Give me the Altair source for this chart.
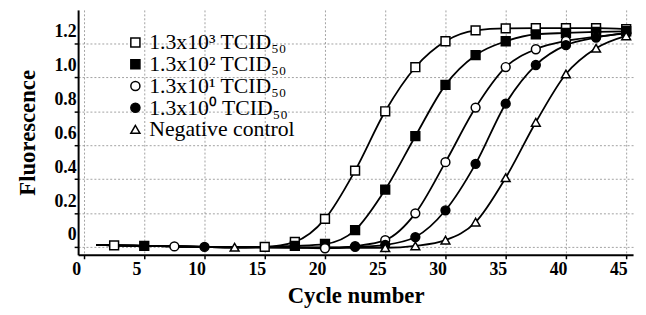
import altair as alt
import pandas as pd

cycles = [1, 2.5, 5, 7.5, 10, 12.5, 15, 17.5, 20, 22.5, 25, 27.5, 30, 32.5, 35, 37.5, 40, 42.5, 45]

names = ["1.3x10³ TCID₅₀", "1.3x10² TCID₅₀", "1.3x10¹ TCID₅₀", "1.3x10⁰ TCID₅₀", "Negative control"]

val_a = [0.012, 0.009, 0.006, 0.003, 0.0, -0.002, 0.0, 0.03, 0.165, 0.45, 0.80, 1.06, 1.213, 1.277, 1.289, 1.29, 1.29, 1.29, 1.285]
val_b = [0.012, 0.009, 0.006, 0.003, 0.0, -0.002, 0.0, 0.006, 0.017, 0.099, 0.338, 0.653, 0.956, 1.131, 1.213, 1.254, 1.262, 1.268, 1.272]
val_c = [0.012, 0.009, 0.006, 0.003, 0.0, -0.002, -0.002, -0.004, -0.008, 0.005, 0.04, 0.198, 0.50, 0.822, 1.061, 1.166, 1.215, 1.24, 1.26]
val_d = [0.012, 0.009, 0.006, 0.003, 0.0, -0.002, -0.002, -0.003, -0.003, 0.0, 0.012, 0.058, 0.216, 0.49, 0.845, 1.073, 1.19, 1.235, 1.262]
val_e = [0.012, 0.009, 0.006, 0.003, 0.0, -0.002, -0.003, -0.004, -0.005, -0.005, -0.005, 0.006, 0.04, 0.146, 0.408, 0.735, 1.02, 1.172, 1.245]

marker_cycles_a = [2.5, 15, 17.5, 20, 22.5, 25, 27.5, 30, 32.5, 35, 37.5, 40, 42.5, 45]
marker_cycles_b = [5, 17.5, 20, 22.5, 25, 27.5, 30, 32.5, 35, 37.5, 40, 42.5, 45]
marker_cycles_c = [7.5, 20, 22.5, 25, 27.5, 30, 32.5, 35, 37.5, 40, 42.5, 45]
marker_cycles_d = [10, 22.5, 25, 27.5, 30, 32.5, 35, 37.5, 40, 42.5, 45]
marker_cycles_e = [12.5, 25, 27.5, 30, 32.5, 35, 37.5, 40, 42.5, 45]

shapes = ["square", "square", "circle", "circle", "triangle-up"]
fills = ["white", "black", "white", "black", "white"]
strokes = ["black", "black", "black", "black", "black"]

x_ticks = [0, 5, 10, 15, 20, 25, 30, 35, 40, 45]
y_ticks = [0, 0.2, 0.4, 0.6, 0.8, 1.0, 1.2]

all_vals = [val_a, val_b, val_c, val_d, val_e]
all_marks = [marker_cycles_a, marker_cycles_b, marker_cycles_c, marker_cycles_d, marker_cycles_e]

line_rows = []
mark_rows = []
for i, (nm, vals, mc) in enumerate(zip(names, all_vals, all_marks)):
    for c, v in zip(cycles, vals):
        line_rows.append({"series": nm, "cycle": c, "value": v, "order": i})
        if c in mc:
            mark_rows.append({"series": nm, "cycle": c, "value": v, "order": i})
lines_df = pd.DataFrame(line_rows)
marks_df = pd.DataFrame(mark_rows)

serif = "Liberation Serif"

x_enc = alt.X(
    "cycle:Q",
    scale=alt.Scale(domain=[-0.49, 45.57], nice=False, zero=False),
    axis=alt.Axis(
        values=x_ticks, title="Cycle number", grid=True, labelOffset=-8,
        labelPadding=2, titlePadding=6,
    ),
)
y_enc = alt.Y(
    "value:Q",
    scale=alt.Scale(domain=[-0.0466, 1.398], nice=False, zero=False),
    axis=alt.Axis(
        values=y_ticks, title="Fluorescence", grid=True, labelOffset=-12,
        labelPadding=-2, titlePadding=15,
        labelExpr="datum.value == 0 ? '0' : format(datum.value, '.1f')",
    ),
)

line_layer = alt.Chart(lines_df).mark_line(
    color="black", strokeWidth=1.8, interpolate="monotone"
).encode(x=x_enc, y=y_enc, detail="series:N")

leg = alt.Legend(title=None)
point_layer = alt.Chart(marks_df).mark_point(
    filled=True, strokeWidth=1.5, size=80, opacity=1
).encode(
    x=x_enc,
    y=y_enc,
    shape=alt.Shape("series:N", scale=alt.Scale(domain=names, range=shapes), legend=leg),
    fill=alt.Fill("series:N", scale=alt.Scale(domain=names, range=fills), legend=leg),
    stroke=alt.Stroke("series:N", scale=alt.Scale(domain=names, range=strokes), legend=leg),
    order="order:Q",
)

chart = alt.layer(line_layer, point_layer).properties(
    width=562, height=248,
    autosize=alt.AutoSizeParams(type="none"),
    padding={"left": 71, "top": 0, "right": 5, "bottom": 58},
).configure_view(strokeWidth=0).configure_axis(
    domainColor="black", domainWidth=2, tickColor="black", tickSize=4, tickWidth=1.5,
    gridColor="#8a8a8a", gridDash=[2, 2], gridWidth=1, gridOpacity=0.8,
    labelFont=serif, labelFontWeight="bold", labelFontSize=18, labelColor="black",
    titleFont=serif, titleFontWeight="bold", titleFontSize=23, titleColor="black",
).configure_legend(
    orient="none", legendX=47, legendY=22, padding=0,
    labelFont=serif, labelFontSize=22, labelColor="black", labelOffset=3,
    symbolStrokeWidth=1.5, symbolSize=85,
    rowPadding=-2,
)

chart.save("out.html", embed_options={"renderer": "svg", "actions": False})
